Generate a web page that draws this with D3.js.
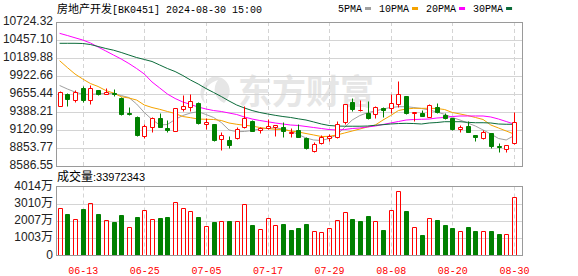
<!DOCTYPE html>
<html>
<head>
<meta charset="utf-8">
<script src="https://cdn.jsdelivr.net/npm/d3@7"></script>
<style>
  html, body { margin: 0; padding: 0; background: #ffffff; }
  svg { display: block; }
</style>
</head>
<body>
<div id="kline"></div>
<script>
// Chart data (price in points, volume in 万)
//
var dates = [
  "06-07","06-11","06-12","06-13","06-14","06-17","06-18","06-19","06-20","06-21",
  "06-24","06-25","06-26","06-27","06-28","07-01","07-02","07-03","07-04","07-05",
  "07-08","07-09","07-10","07-11","07-12","07-15","07-16","07-17","07-18","07-19",
  "07-22","07-23","07-24","07-25","07-26","07-29","07-30","07-31","08-01","08-02",
  "08-05","08-06","08-07","08-08","08-09","08-12","08-13","08-14","08-15","08-16",
  "08-19","08-20","08-21","08-22","08-23","08-26","08-27","08-28","08-29","08-30"
];
var openValues = [
  9482,9655,9571,9749,9571,9715,9660,9675,9592,9373,
  9318,9036,9170,9304,9146,9111,9437,9462,9522,9215,
  9210,8983,8973,9007,9161,9259,9125,9146,9166,9161,
  9076,9121,9007,8809,8924,9007,9013,9244,9541,9413,
  9369,9354,9443,9443,9503,9626,9369,9378,9318,9467,
  9344,9295,9136,9185,9047,8998,9072,8883,8839,8924
];
var highValues = [
  9704,9666,9715,9779,9789,9722,9745,9730,9611,9462,
  9329,9215,9310,9378,9265,9455,9641,9655,9537,9299,
  9217,9096,9032,9170,9482,9274,9170,9280,9195,9244,
  9146,9210,9017,8947,9047,9062,9255,9510,9600,9566,
  9556,9477,9467,9660,9848,9633,9388,9418,9503,9517,
  9378,9299,9195,9255,9054,9121,9076,8932,8898,9384
];
var lowValues = [
  9477,9482,9541,9541,9511,9641,9655,9621,9344,9344,
  9032,8998,9087,9166,9087,9106,9403,9408,9210,9136,
  8958,8824,8858,8987,9146,9099,9072,9136,9032,9010,
  9013,9010,8839,8799,8913,8962,8998,9206,9408,9403,
  9289,9304,9318,9369,9467,9354,9255,9329,9310,9369,
  9289,9121,9087,9084,8958,8987,8858,8790,8799,8909
];
var closeValues = [
  9690,9581,9681,9571,9740,9651,9681,9651,9354,9359,
  9047,9185,9295,9170,9121,9443,9477,9552,9225,9235,
  8973,9047,8898,9131,9295,9106,9146,9183,9188,9106,
  9096,9022,8849,8913,9013,9032,9210,9503,9428,9424,
  9295,9458,9413,9517,9655,9369,9384,9333,9492,9384,
  9295,9136,9161,9087,9013,9087,8883,8864,8898,9235
];
var volumeValues = [
  2746,2414,2106,2705,3054,2414,2048,1949,2356,1640,
  2240,2629,2106,2164,2240,3095,2746,2571,2240,1716,
  1949,2007,2007,2007,2996,1774,1541,2164,1774,1832,
  1483,1600,1832,1425,1367,1600,2065,2530,2123,2007,
  2298,2007,1483,2647,3752,2589,1658,1192,2181,2065,
  1774,1600,1425,1658,1425,1425,1425,1251,1251,3397.2343
];
var ma5Values = [
  9782,9730,9685,9651,9648,9658,9663,9666,9633,9603,
  9507,9381,9277,9195,9203,9277,9336,9373,9393,9351,
  9307,9232,9121,9096,9099,9114,9136,9146,9154,9136,
  9106,9054,9002,8973,8965,8995,9047,9158,9269,9336,
  9378,9403,9433,9455,9467,9467,9455,9440,9418,9388,
  9354,9307,9269,9225,9180,9121,9062,8995,8973,9036
];
var ma10Values = [
  10150,10049,9952,9878,9811,9767,9707,9670,9615,9596,
  9566,9492,9455,9428,9396,9366,9321,9304,9284,9280,
  9277,9262,9225,9206,9191,9180,9158,9143,9131,9128,
  9106,9091,9069,9047,9024,9027,9047,9076,9106,9136,
  9166,9195,9269,9336,9410,9433,9443,9443,9443,9440,
  9425,9381,9359,9336,9307,9277,9195,9151,9106,9062
];
var ma20Values = [
  10556,10524,10490,10457,10413,10353,10294,10234,10175,10108,
  10034,9952,9834,9745,9655,9589,9537,9500,9462,9433,
  9410,9396,9373,9351,9314,9284,9262,9244,9225,9210,
  9195,9188,9173,9158,9143,9128,9121,9128,9143,9151,
  9166,9180,9203,9225,9247,9269,9277,9280,9284,9299,
  9307,9321,9329,9329,9329,9329,9314,9284,9247,9210
];
var ma30Values = [
  10408,10408,10408,10405,10390,10361,10331,10306,10272,10234,
  10197,10168,10138,10086,10034,9989,9930,9863,9804,9737,
  9678,9618,9552,9492,9448,9410,9381,9359,9339,9321,
  9307,9287,9269,9240,9210,9188,9180,9177,9177,9177,
  9180,9191,9200,9210,9217,9220,9217,9210,9225,9232,
  9244,9244,9244,9235,9229,9229,9225,9210,9206,9206
];
var priceTicks  = [10724.32,10457.10,10189.88,9922.66,9655.44,9388.21,9120.99,8853.77,8586.55];
var volumeTicks = [4014,3010,2007,1003,0];
var volumeTickLabels = ["4014万","3010万","2007万","1003万","0"];
var dateTicks = ["06-13","06-25","07-05","07-17","07-29","08-08","08-20","08-30"];
var maNames  = ["5PMA","10PMA","20PMA","30PMA"];
var maColors = ["#a0a0a0","#f5a300","#ff00ff","#0b6b3a"];

// Layout globals
//
var svg_width  = 578;
var svg_height = 276;
var x_box_min  = 56;
var x_box_max  = 522;
var y_box_min  = 22;
var y_box_max  = 166;
var v_box_min  = 186.5;
var v_box_max  = 255.5;

var upColor    = "#ff0000";
var downColor  = "#008000";
var gridColor  = "#d4d4d4";
var boxColor   = "#9a9a9a";

var svg = d3.select("#kline").append("svg")
    .attr("width", svg_width)
    .attr("height", svg_height)
    .attr("viewBox", `0 0 ${svg_width} ${svg_height}`)
    .style("background", "#ffffff");

// Scales
//
var x = d3.scalePoint().domain(dates).range([59.6, 513.9]);
var y = d3.scaleLinear().domain([priceTicks[priceTicks.length - 1], priceTicks[0]]).range([y_box_max, y_box_min]);
var yVol = d3.scaleLinear().domain([0, volumeTicks[0]]).range([v_box_max, v_box_min]);

function px(v) { return Math.round(v) + 0.5; }

// Watermark
//
var mark = svg.append("g").attr("class", "watermark");
mark.append("path")
    .attr("d", "M214,76 C200,82 196,96 206,104 C200,94 206,84 218,80 C212,88 214,98 224,103 C232,96 232,84 222,78 Z")
    .attr("fill", "#e6e6e6");
mark.append("text")
    .attr("x", 238)
    .attr("y", 104)
    .style("font-family", "'Noto Sans CJK SC', sans-serif")
    .style("font-size", "34px")
    .style("font-weight", "700")
    .style("fill", "#e6e6e6")
    .text("东方财富");

// Grid lines
//
var grid = svg.append("g").attr("class", "grid");
grid.selectAll("line.hprice")
    .data(priceTicks.slice(1, -1))
    .enter().append("line")
    .attr("x1", x_box_min).attr("x2", x_box_max)
    .attr("y1", d => px(y(d))).attr("y2", d => px(y(d)))
    .attr("stroke", gridColor);
grid.selectAll("line.hvol")
    .data(volumeTicks.slice(1, -1))
    .enter().append("line")
    .attr("x1", x_box_min).attr("x2", x_box_max)
    .attr("y1", d => px(yVol(d))).attr("y2", d => px(yVol(d)))
    .attr("stroke", gridColor);
dateTicks.forEach(function(d) {
    [[y_box_min, y_box_max], [v_box_min, v_box_max]].forEach(function(r) {
        grid.append("line")
            .attr("x1", px(x(d))).attr("x2", px(x(d)))
            .attr("y1", r[0]).attr("y2", r[1])
            .attr("stroke", gridColor)
            .attr("stroke-dasharray", "4,3");
    });
});

// Boxes
//
svg.append("rect")
    .attr("x", x_box_min + 0.5).attr("y", y_box_min + 0.5)
    .attr("width", x_box_max - x_box_min).attr("height", y_box_max - y_box_min)
    .attr("fill", "none").attr("stroke", boxColor);
svg.append("rect")
    .attr("x", x_box_min + 0.5).attr("y", Math.floor(v_box_min) + 0.5)
    .attr("width", x_box_max - x_box_min).attr("height", Math.floor(v_box_max) - Math.floor(v_box_min))
    .attr("fill", "none").attr("stroke", boxColor);

// Moving averages
//
var maSeries = [ma5Values, ma10Values, ma20Values, ma30Values];
var line = d3.line()
    .x((d, i) => x(dates[i]))
    .y(d => y(d));
maSeries.forEach(function(s, k) {
    svg.append("path")
        .attr("d", line(s))
        .attr("fill", "none")
        .attr("stroke", maColors[k])
        .attr("stroke-width", 1);
});

// Candles
//
var candles = svg.append("g").attr("class", "candles");
dates.forEach(function(d, i) {
    let o = openValues[i], h = highValues[i], l = lowValues[i], c = closeValues[i];
    let up    = c >= o;
    let color = up ? upColor : downColor;
    let cx    = Math.round(x(d));
    let yt    = px(y(Math.max(o, c)));
    let yb    = px(y(Math.min(o, c)));

    candles.append("line")
        .attr("x1", cx + 0.5).attr("x2", cx + 0.5)
        .attr("y1", px(y(h))).attr("y2", yt)
        .attr("stroke", color);
    candles.append("line")
        .attr("x1", cx + 0.5).attr("x2", cx + 0.5)
        .attr("y1", yb).attr("y2", px(y(l)))
        .attr("stroke", color);
    candles.append("path")
        .attr("d", `M${cx - 1.5},${yt}H${cx + 2.5}V${yb}H${cx - 1.5}Z`)
        .attr("fill", up ? "#ffffff" : color)
        .attr("stroke", color);
});

// Volume bars
//
var bars = svg.append("g").attr("class", "volume");
dates.forEach(function(d, i) {
    let up    = i === 0 ? closeValues[i] >= openValues[i] : closeValues[i] >= closeValues[i - 1];
    let color = up ? upColor : downColor;
    let cx    = Math.round(x(d));
    let yt    = px(yVol(volumeValues[i]));
    let yb    = Math.floor(v_box_max);
    bars.append("path")
        .attr("d", `M${cx - 1.5},${yb}V${yt}H${cx + 2.5}V${yb}`)
        .attr("fill", up ? "none" : color)
        .attr("stroke", color);
});

// Y axis labels
//
var labelFont = "'Liberation Sans', Arial, 'Noto Sans CJK SC', sans-serif";
svg.selectAll("text.price")
    .data(priceTicks)
    .enter().append("text")
    .attr("class", "price")
    .attr("x", 53)
    .attr("y", d => y(d) - 1)
    .attr("dy", "0.35em")
    .attr("text-anchor", "end")
    .style("font-family", labelFont)
    .style("font-size", "12px")
    .style("fill", "#222")
    .text(d => d3.format(".2f")(d));
svg.selectAll("text.vol")
    .data(volumeTicks)
    .enter().append("text")
    .attr("class", "vol")
    .attr("x", 53)
    .attr("y", d => yVol(d) - 1)
    .attr("dy", "0.35em")
    .attr("text-anchor", "end")
    .style("font-family", labelFont)
    .style("font-size", "12px")
    .style("fill", "#222")
    .text((d, i) => volumeTickLabels[i]);

// Date labels
//
svg.selectAll("text.date")
    .data(dateTicks)
    .enter().append("text")
    .attr("class", "date")
    .attr("x", d => x(d) + 0.5)
    .attr("y", 270)
    .attr("dy", "0.35em")
    .attr("text-anchor", "middle")
    .style("font-family", "'Liberation Mono', monospace")
    .style("font-size", "10px")
    .style("fill", "#ff0000")
    .text(d => d);

// Title
//
var title = svg.append("text").attr("x", 57).attr("y", 13);
title.append("tspan")
    .style("font-family", "'Noto Sans CJK SC', sans-serif")
    .style("font-size", "11px")
    .text("房地产开发");
title.append("tspan")
    .style("font-family", "'Liberation Mono', monospace")
    .style("font-size", "10px")
    .text("[BK0451] 2024-08-30 15:00");

// Legend
//
var lx = 338;
maNames.forEach(function(name, k) {
    let t = svg.append("text")
        .attr("x", lx).attr("y", 12)
        .style("font-family", "'Liberation Mono', monospace")
        .style("font-size", "10px")
        .style("fill", "#000")
        .text(name);
    let w = t.node().getComputedTextLength();
    svg.append("rect")
        .attr("x", lx + w + 3).attr("y", 7)
        .attr("width", 6).attr("height", 3)
        .attr("fill", maColors[k]);
    lx += w + 3 + 6 + 8;
});

// Volume label
//
var volLabel = svg.append("text").attr("x", 57).attr("y", 181);
volLabel.append("tspan")
    .style("font-family", "'Noto Sans CJK SC', sans-serif")
    .style("font-size", "12px")
    .text("成交量");
volLabel.append("tspan")
    .style("font-family", labelFont)
    .style("font-size", "11px")
    .text(":" + Math.round(volumeValues[volumeValues.length - 1] * 10000));
</script>
</body>
</html>
